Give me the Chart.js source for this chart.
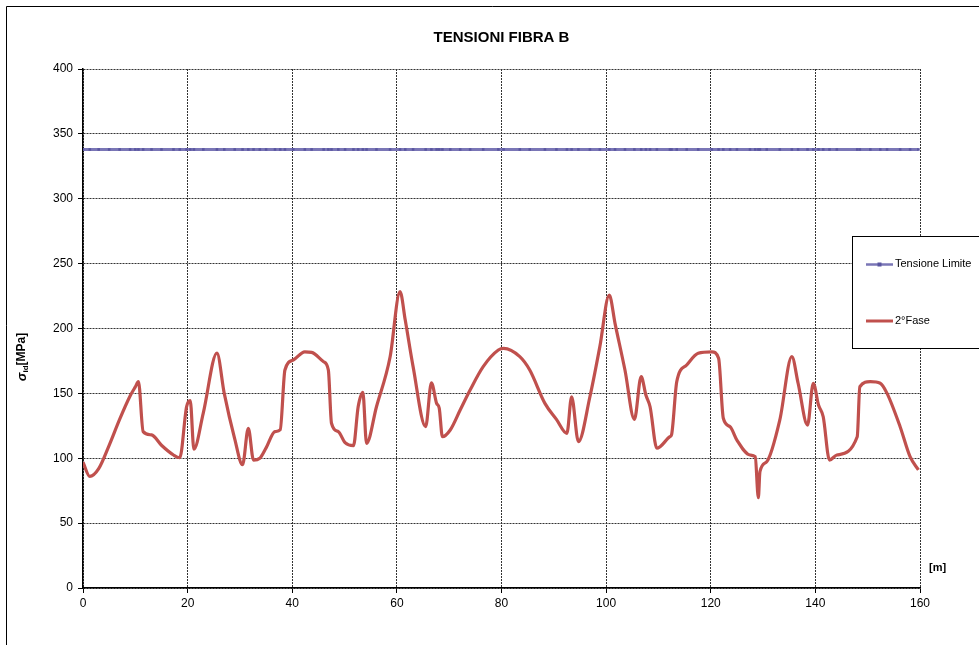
<!DOCTYPE html>
<html>
<head>
<meta charset="utf-8">
<script src="https://cdn.jsdelivr.net/npm/chart.js@4.4.0/dist/chart.umd.min.js"></script>
<style>
    html, body { margin: 0; padding: 0; background: #fff; }
    #wrap { width: 979px; height: 645px; position: relative; }
</style>
</head>
<body>
<div id="wrap"><canvas id="tensioniChart"></canvas></div>
<script>
/* Tensioni fibra B — Chart.js */

const stations = [0, 1.3, 3, 5, 7, 9, 10, 10.6, 11.5, 13.1, 15, 17.3, 18.5, 19.8, 20.5, 21.2, 23, 25.6, 27, 29, 30.5, 31.6, 32.6, 33.8, 35, 36.7, 37.7, 38.6, 40.2, 42.4, 43.7, 46, 46.9, 47.5, 48.8, 50.1, 51.7, 52.6, 53.5, 54.2, 56.1, 58.7, 60.6, 61.6, 63.1, 65.5, 66.6, 67.6, 68.1, 68.7, 70.2, 72.1, 74, 76.5, 79.4, 80.4, 83.5, 85.4, 88.3, 90.5, 92.5, 93.4, 94.7, 96.9, 98.8, 100.6, 101.7, 103.6, 105.4, 106.7, 107.6, 108.4, 109.7, 112.2, 112.5, 113.5, 115.4, 117.6, 120.2, 121.5, 122.4, 123.7, 125, 127.5, 128.5, 129.1, 129.4, 130.7, 133.2, 135.5, 136.7, 138.5, 139.6, 140.6, 141.5, 142.7, 144.1, 148, 148.5, 150.5, 152.4, 153.7, 156.2, 158.1, 159.7];
const fase2 = [97, 86, 92, 110, 130, 148, 155, 159, 120.5, 118, 110, 102.5, 100.4, 139.7, 144.4, 107, 135, 181, 150, 115, 95, 123, 98.6, 100, 108, 120.5, 122, 168, 175.7, 182, 181.6, 174.4, 168, 127, 120.5, 112, 109.7, 139.7, 150.8, 111.5, 139.7, 178, 228.4, 206.5, 170.6, 124.3, 158.2, 142.3, 138.5, 116.6, 121.8, 137.2, 152.6, 170.6, 183.4, 184.7, 178.3, 168, 142.3, 130, 119.2, 147.4, 112.8, 147.4, 186, 225.8, 204, 168, 130, 162.9, 148.7, 139.7, 107.7, 116.6, 118, 159, 171.9, 180.9, 182, 177, 130.8, 124.3, 114, 102.5, 101.2, 69.6, 89.6, 97.3, 129.5, 178.3, 157.8, 125.6, 157.8, 141, 132, 98.6, 102.5, 116.6, 155.1, 159, 157.8, 150, 124.3, 101.2, 91];
const tensioneLimite = 338;
const xTicks = [0, 20, 40, 60, 80, 100, 120, 140, 160];
const yTicks = [0, 50, 100, 150, 200, 250, 300, 350, 400];

const FONT = 'Arial, "Liberation Sans", sans-serif';
const BLUE = '#7a76b6';
const RED = '#c0504d';

const decorations = {
    id: 'decorations',
    afterDraw(chart) {
        const ctx = chart.ctx;
        const area = chart.chartArea;
        ctx.save();

        // outer frame (left + top)
        ctx.strokeStyle = '#000';
        ctx.lineWidth = 1;
        ctx.beginPath();
        ctx.moveTo(6.5, 645);
        ctx.lineTo(6.5, 6.5);
        ctx.lineTo(979, 6.5);
        ctx.stroke();

        // title
        ctx.fillStyle = '#000';
        ctx.font = 'bold 15px ' + FONT;
        ctx.textAlign = 'center';
        ctx.textBaseline = 'middle';
        ctx.fillText('TENSIONI FIBRA B', (area.left + area.right) / 2, 38);

        // x unit
        ctx.font = 'bold 11px ' + FONT;
        ctx.textAlign = 'left';
        ctx.fillText('[m]', 929, 568);

        // y title with subscript
        ctx.translate(22, 357);
        ctx.rotate(-Math.PI / 2);
        ctx.textAlign = 'left';
        ctx.textBaseline = 'middle';
        const big = 'bold 12px ' + FONT;
        const small = 'bold 8px ' + FONT;
        ctx.font = 'bold italic 13px ' + FONT;
        const wS = ctx.measureText('σ').width;
        ctx.font = small;
        const wId = ctx.measureText('id').width;
        ctx.font = big;
        const wU = ctx.measureText('[MPa]').width;
        let x = -(wS + wId + wU) / 2;
        ctx.font = 'bold italic 13px ' + FONT;
        ctx.fillText('σ', x, 0);
        x += wS;
        ctx.font = small;
        ctx.fillText('id', x, 4);
        x += wId;
        ctx.font = big;
        ctx.fillText('[MPa]', x, 0);
        ctx.restore();

        // legend box
        ctx.save();
        ctx.fillStyle = '#fff';
        ctx.fillRect(852, 236, 130, 113);
        ctx.strokeStyle = '#000';
        ctx.lineWidth = 1;
        ctx.strokeRect(852.5, 236.5, 130, 112);
        ctx.lineWidth = 2.5;
        ctx.strokeStyle = BLUE;
        ctx.beginPath();
        ctx.moveTo(866, 264.5);
        ctx.lineTo(893, 264.5);
        ctx.stroke();
        ctx.fillStyle = '#5a56a0';
        ctx.fillRect(877.5, 262.5, 4, 4);
        ctx.lineWidth = 3;
        ctx.strokeStyle = RED;
        ctx.beginPath();
        ctx.moveTo(866, 321);
        ctx.lineTo(893, 321);
        ctx.stroke();
        ctx.fillStyle = '#000';
        ctx.font = '11px ' + FONT;
        ctx.textAlign = 'left';
        ctx.textBaseline = 'middle';
        ctx.fillText('Tensione Limite', 895, 264);
        ctx.fillText('2°Fase', 895, 321);
        ctx.restore();
    },
};

const ctx = document.getElementById('tensioniChart');
new Chart(ctx, {
    type: 'line',
    data: {
        datasets: [
            {
                label: 'Tensione Limite',
                data: stations.map(function (s) { return { x: s, y: tensioneLimite }; }),
                borderColor: BLUE,
                backgroundColor: '#5a56a0',
                borderWidth: 3,
                pointStyle: 'rect',
                pointRadius: 1.8,
                pointBorderWidth: 0,
                tension: 0,
            },
            {
                label: '2°Fase',
                data: stations.map(function (s, i) { return { x: s, y: fase2[i] }; }),
                borderColor: RED,
                borderWidth: 3.2,
                pointRadius: 0,
                cubicInterpolationMode: 'monotone',
            },
        ],
    },
    options: {
        responsive: true,
        maintainAspectRatio: false,
        animation: false,
        layout: { padding: { left: 43, top: 69, right: 59, bottom: 27 } },
        plugins: {
            legend: { display: false },
            title: { display: false },
            tooltip: { enabled: false },
        },
        scales: {
            x: {
                type: 'linear',
                min: 0,
                max: 160,
                afterFit: function (s) { s.height = 30; },
                afterBuildTicks: function (s) { s.ticks = xTicks.map(function (v) { return { value: v }; }); },
                grid: { color: '#333', tickColor: '#000', tickLength: 5, tickBorderDash: [] },
                border: { color: '#000', width: 1.5, dash: [2, 1] },
                ticks: { color: '#000', font: { family: FONT, size: 12 }, padding: 3, maxRotation: 0 },
            },
            y: {
                min: 0,
                max: 400,
                afterFit: function (s) { s.width = 40; },
                afterBuildTicks: function (s) { s.ticks = yTicks.map(function (v) { return { value: v }; }); },
                grid: { color: '#333', tickColor: '#000', tickLength: 5, tickBorderDash: [] },
                border: { color: '#000', width: 1.5, dash: [2, 1] },
                ticks: { color: '#000', font: { family: FONT, size: 12 }, padding: 5 },
            },
        },
    },
    plugins: [decorations],
});
</script>
</body>
</html>
